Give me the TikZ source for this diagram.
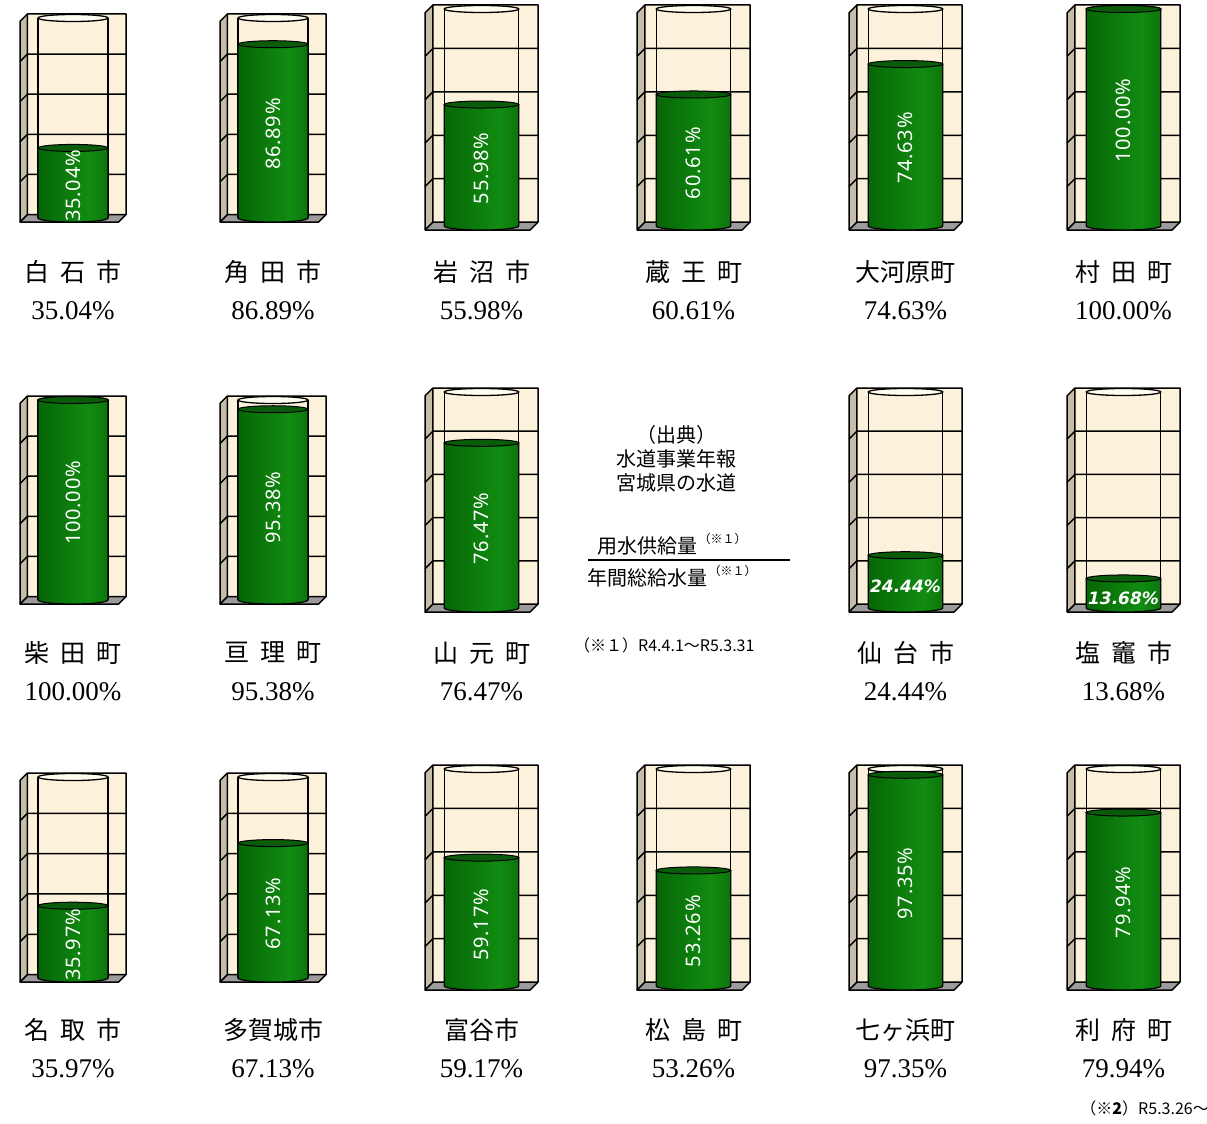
\documentclass[tikz,border=0pt]{standalone}
\usepackage{fontspec}
\usepackage{tikz}
\usetikzlibrary{positioning}

\newfontfamily\jpfont{Noto Sans CJK JP}
\newfontfamily\pctfont[LetterSpace=4]{Noto Sans}
\newfontfamily\pctbfont{DejaVu Sans}
\newfontfamily\valfont{Liberation Serif}

\definecolor{wallcream}{HTML}{FCF2DC}
\definecolor{wallside}{HTML}{C6BDA8}
\definecolor{floorgray}{HTML}{9C9C9C}
\definecolor{glasstop}{HTML}{FFFCF0}
\definecolor{gdark}{HTML}{004600}
\definecolor{gmid}{HTML}{066606}
\definecolor{glight}{HTML}{118C11}
\definecolor{gtop}{HTML}{0A5C0A}

\pgfdeclarehorizontalshading{tankgreen}{100bp}{color(0bp)=(gdark); color(25bp)=(gmid); color(62bp)=(glight); color(100bp)=(gdark)}

\newcommand{\jgap}{\hspace{11pt}}

% #1 name, #2 left, #3 top, #4 right, #5 bottom, #6 percent, #7 label style, #8 place, #9 label row
\newcommand{\tank}[9]{%
  \pgfmathsetmacro\tkD{0.07*(#4-#2)}
  \pgfmathsetmacro\tkA{#2+\tkD}
  \pgfmathsetmacro\tkF{#5-\tkD}
  \pgfmathsetmacro\tkS{(\tkF-#3)/5}
  \pgfmathsetmacro\tkX{(#2+#4)/2}
  \pgfmathsetmacro\cyL{#2+0.17*(#4-#2)}
  \pgfmathsetmacro\cyR{#4-0.17*(#4-#2)}
  \pgfmathsetmacro\cyX{(\cyL+\cyR)/2}
  \pgfmathsetmacro\cyr{(\cyR-\cyL)/2}
  \pgfmathsetmacro\cyT{#3+4}
  \pgfmathsetmacro\cyB{#5-4}
  \pgfmathsetmacro\cyG{\cyB-#6/100*(\cyB-\cyT)}
  \pgfmathsetmacro\cyM{(\cyG+\cyB)/2+3}
  % walls and floor
  \fill[wallcream] (\tkA,#3) rectangle (#4,\tkF);
  \fill[wallside] (#2,#3+\tkD) -- (\tkA,#3) -- (\tkA,\tkF) -- (#2,#5) -- cycle;
  \fill[floorgray] (#2,#5) -- (\tkA,\tkF) -- (#4,\tkF) -- (#4-\tkD,#5) -- cycle;
  \foreach \k in {1,...,4}
  {
  \draw[gridline] (#2,#3+\tkD+\k*\tkS) -- (\tkA,#3+\k*\tkS) -- (#4,#3+\k*\tkS);
  }
  \draw[boxline] (#2,#3+\tkD) -- (\tkA,#3) -- (#4,#3) -- (#4,\tkF) -- (#4-\tkD,#5) -- (#2,#5) -- cycle;
  \draw[boxline] (\tkA,#3) -- (\tkA,\tkF) -- (#4,\tkF) (\tkA,\tkF) -- (#2,#5);
  % glass
  \draw[glassline] (\cyL,\cyT) -- (\cyL,\cyB) (\cyR,\cyT) -- (\cyR,\cyB);
  \draw[glassline, fill=glasstop] (\cyX,\cyT) ellipse[x radius=\cyr, y radius=3.5];
  % water
  \path[draw=black, line width=1.2pt, shading=tankgreen]
  (\cyL,\cyG) -- (\cyL,\cyB) arc[start angle=180, end angle=0, x radius=\cyr, y radius=4] -- (\cyR,\cyG) -- cycle;
  \draw[black, line width=1pt, fill=gtop] (\cyX,\cyG) ellipse[x radius=\cyr, y radius=3.5];
  \begin{scope}
  \clip (\cyL,\cyG) -- (\cyL,\cyB) arc[start angle=180, end angle=0, x radius=\cyr, y radius=4] -- (\cyR,\cyG) -- cycle;
  \node[#7] (#1-pct) at (\cyX,\cyM) {#6\%};
  \end{scope}
  % labels
  \node[placename] (#1-name) at (\tkX,#9) {#8};
  \node[placeval] (#1-val) at (\tkX,#9+39) {#6\%};
}

\begin{document}
\begin{tikzpicture}[x=1pt, y=-1pt,
    boxline/.style={black, line width=1.5pt, line join=round},
    gridline/.style={black, line width=1.5pt},
    glassline/.style={black, line width=1.3pt},
    pctv/.style={rotate=90, text=white, inner sep=0pt, font=\pctfont\fontsize{20}{20}\selectfont},
    pcth/.style={text=white, inner sep=0pt, yshift=-2pt, font=\pctbfont\bfseries\itshape\fontsize{17}{17}\selectfont},
    placename/.style={inner sep=0pt, font=\jpfont\fontsize{25}{25}\selectfont},
    placeval/.style={inner sep=0pt, font=\valfont\fontsize{27}{27}\selectfont},
    jpnote/.style={inner sep=0pt, font=\jpfont\fontsize{20}{20}\selectfont},
    jpsup/.style={inner sep=0pt, font=\jpfont\fontsize{12}{12}\selectfont},
    jpsmall/.style={inner sep=0pt, font=\jpfont\fontsize{16}{16}\selectfont},
    fracbar/.style={black, line width=2.8pt}]

    %% Background
    \useasboundingbox (0,0) rectangle (1207,1124);

    %% Row 1
    \tank{shiroishi}{20}{14}{126}{222}{35.04}{pctv}{白\jgap 石\jgap 市}{272}
    \tank{kakuda}{220}{14}{326}{222}{86.89}{pctv}{角\jgap 田\jgap 市}{272}
    \tank{iwanuma}{425}{5}{538}{230}{55.98}{pctv}{岩\jgap 沼\jgap 市}{272}
    \tank{zao}{637}{5}{750}{230}{60.61}{pctv}{蔵\jgap 王\jgap 町}{272}
    \tank{ogawara}{849}{5}{962}{230}{74.63}{pctv}{大河原町}{272}
    \tank{murata}{1067}{5}{1180}{230}{100.00}{pctv}{村\jgap 田\jgap 町}{272}

    %% Row 2
    \tank{shibata}{20}{396}{126}{604}{100.00}{pctv}{柴\jgap 田\jgap 町}{653}
    \tank{watari}{220}{396}{326}{604}{95.38}{pctv}{亘\jgap 理\jgap 町}{653}
    \tank{yamamoto}{425}{388}{538}{612}{76.47}{pctv}{山\jgap 元\jgap 町}{653}
    \tank{sendai}{849}{388}{962}{612}{24.44}{pcth}{仙\jgap 台\jgap 市}{653}
    \tank{shiogama}{1067}{388}{1180}{612}{13.68}{pcth}{塩\jgap 竈\jgap 市}{653}

    %% Row 3
    \tank{natori}{20}{773}{126}{982}{35.97}{pctv}{名\jgap 取\jgap 市}{1030}
    \tank{tagajo}{220}{773}{326}{982}{67.13}{pctv}{多賀城市}{1030}
    \tank{tomiya}{425}{765}{538}{990}{59.17}{pctv}{富谷市}{1030}
    \tank{matsushima}{637}{765}{750}{990}{53.26}{pctv}{松\jgap 島\jgap 町}{1030}
    \tank{shichigahama}{849}{765}{962}{990}{97.35}{pctv}{七ヶ浜町}{1030}
    \tank{rifu}{1067}{765}{1180}{990}{79.94}{pctv}{利\jgap 府\jgap 町}{1030}

    %% Source and ratio
    \node[jpnote] (src) at (676,435) {（出典）};
    \node[jpnote] (report) at (676,459) {水道事業年報};
    \node[jpnote] (book) at (676,483) {宮城県の水道};

    \node[jpnote, anchor=west] (numer) at (597,546) {用水供給量};
    \node[jpsup, right=1pt of numer, yshift=7pt] (numer-mark) {（※１）};
    \coordinate (barL) at (588,560);
    \coordinate (barR) at (790,560);
    \draw[fracbar] (barL) -- (barR);
    \node[jpnote, anchor=west] (denom) at (587,578) {年間総給水量};
    \node[jpsup, right=1pt of denom, yshift=7pt] (denom-mark) {（※１）};

    \node[jpsmall, anchor=west] (period) at (574,645) {（※１）R4.4.1～R5.3.31};
    \node[jpsmall, anchor=east] (period2) at (1209,1108) {（\textbf{※2}）R5.3.26～};

\end{tikzpicture}
\end{document}
